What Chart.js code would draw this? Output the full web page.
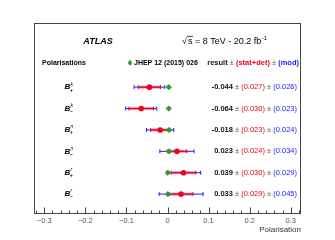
<!DOCTYPE html>
<html lang="en">
<head>
    <title>Polarisations</title>
    <script src="https://cdn.jsdelivr.net/npm/chart.js"></script>
    <style>
        body { margin: 0; background: #fff; }
        canvas { display: block; }
    </style>
</head>
<body>
    <canvas id="pol" width="335" height="240"></canvas>

    <script>
        // data
        const rowNames = [['k', '+'], ['k', '\u2212'], ['n', '+'], ['n', '\u2212'], ['r', '+'], ['r', '\u2212']];
        const results = [-0.044, -0.064, -0.018, 0.023, 0.039, 0.033];
        const statDet = [0.027, 0.030, 0.023, 0.024, 0.030, 0.029];
        const modErr = [0.026, 0.023, 0.024, 0.034, 0.029, 0.045];
        const predictions = [0.003, 0.003, 0.004, 0.004, 0.001, 0.001];
        const xTicks = [-0.3, -0.2, -0.1, 0, 0.1, 0.2, 0.3];

        const FONT = '"Liberation Sans", Arial, sans-serif';
        const RED = '#f0001c';
        const BLUE = '#1a1aff';
        const GREEN = '#2e9a33';

        // row i sits at y = i + 3 on the hidden y scale
        const rowY = i => i + 3;

        const datasets = [];
        results.forEach((v, i) => {
            const tot = Math.sqrt(statDet[i] * statDet[i] + modErr[i] * modErr[i]);
            datasets.push({
                data: [{x: v - tot, y: rowY(i)}, {x: v + tot, y: rowY(i)}],
                showLine: true, borderColor: BLUE, borderWidth: 1,
                pointStyle: 'line', rotation: 90, pointRadius: 2,
                pointBorderColor: BLUE, pointBorderWidth: 1, order: 5
            });
            datasets.push({
                data: [{x: v - statDet[i], y: rowY(i)}, {x: v + statDet[i], y: rowY(i)}],
                showLine: true, borderColor: 'rgba(225, 40, 80, 0.5)', borderWidth: 3,
                pointRadius: 0, order: 4
            });
            datasets.push({
                data: [{x: v - statDet[i], y: rowY(i)}, {x: v + statDet[i], y: rowY(i)}],
                showLine: true, borderColor: RED, borderWidth: 1,
                pointStyle: 'line', rotation: 90, pointRadius: 2,
                pointBorderColor: RED, pointBorderWidth: 1, order: 3
            });
        });
        datasets.push({
            data: predictions.map((p, i) => ({x: p, y: rowY(i)})),
            pointStyle: 'rectRot', pointRadius: 2.6,
            backgroundColor: GREEN, borderColor: GREEN, pointBorderWidth: 1, order: 2
        });
        datasets.push({
            data: results.map((v, i) => ({x: v, y: rowY(i)})),
            pointStyle: 'circle', pointRadius: 2.8,
            backgroundColor: RED, borderColor: RED, pointBorderWidth: 0, order: 1
        });

        const fmtTick = v => v === 0 ? '0' : (v < 0 ? '\u2212' : '') + Math.abs(v).toFixed(1);

        // pieces drawn one after another, right-aligned at xRight
        function drawPieces(ctx, pieces, xRight, y) {
            let total = 0;
            pieces.forEach(p => { ctx.font = p.font; total += ctx.measureText(p.text).width; });
            let x = xRight - total;
            pieces.forEach(p => {
                ctx.font = p.font;
                ctx.fillStyle = p.color;
                ctx.fillText(p.text, x, y);
                x += ctx.measureText(p.text).width;
            });
        }

        const decor = {
            id: 'decor',
            afterDraw(chart) {
                const ctx = chart.ctx;
                const a = chart.chartArea;
                const xs = chart.scales.x;
                const ys = chart.scales.y;
                ctx.save();

                // frame
                ctx.strokeStyle = '#444';
                ctx.lineWidth = 1;
                ctx.strokeRect(Math.round(a.left) + 0.5, Math.round(a.top) + 0.5,
                    Math.round(a.right - a.left) - 1, Math.round(a.bottom - a.top) - 1);

                // ticks pointing up from the bottom axis
                const yb = Math.round(a.bottom) - 0.5;
                for (let i = -16; i <= 16; i++) {
                    const px = Math.round(xs.getPixelForValue(i / 50)) + 0.5;
                    const len = i % 5 === 0 ? 6 : 3;
                    ctx.beginPath();
                    ctx.moveTo(px, yb);
                    ctx.lineTo(px, yb - len);
                    ctx.stroke();
                }

                ctx.textBaseline = 'middle';
                const small = '7px ' + FONT;
                const col = '7.5px ' + FONT;

                // header
                const yA = ys.getPixelForValue(0.88);
                ctx.textAlign = 'center';
                ctx.fillStyle = '#000';
                ctx.font = 'italic bold 9px ' + FONT;
                ctx.fillText('ATLAS', 98, yA);

                ctx.textAlign = 'left';
                ctx.font = '9px ' + FONT;
                ctx.fillText('\u221A', 182, yA);
                ctx.fillText('s = 8 TeV - 20.2 fb', 188, yA);
                const wS = ctx.measureText('s').width;
                ctx.beginPath();
                ctx.moveTo(187, yA - 5.5);
                ctx.lineTo(188 + wS + 0.5, yA - 5.5);
                ctx.stroke();
                const wLine = ctx.measureText('s = 8 TeV - 20.2 fb').width;
                ctx.font = '6px ' + FONT;
                ctx.fillText('-1', 188 + wLine + 0.5, yA - 3.5);

                const yP = ys.getPixelForValue(1.86);
                ctx.font = 'bold ' + small;
                ctx.fillText('Polarisations', 42, yP);
                ctx.fillStyle = GREEN;
                ctx.beginPath();
                ctx.moveTo(130, yP - 3.2); ctx.lineTo(132.2, yP); ctx.lineTo(130, yP + 3.2); ctx.lineTo(127.8, yP);
                ctx.closePath(); ctx.fill();
                ctx.fillStyle = '#000';
                ctx.font = 'bold ' + small;
                ctx.fillText('JHEP 12 (2015) 026', 134, yP);

                drawPieces(ctx, [
                    {text: 'result ', font: 'bold ' + col, color: '#111'},
                    {text: '\u00B1 ', font: col, color: '#555'},
                    {text: '(stat+det) ', font: 'bold ' + col, color: RED},
                    {text: '\u00B1 ', font: col, color: '#555'},
                    {text: '(mod)', font: 'bold ' + col, color: BLUE}
                ], 299, yP);

                // rows
                results.forEach((v, i) => {
                    const y = ys.getPixelForValue(rowY(i));
                    ctx.fillStyle = '#000';
                    ctx.textAlign = 'left';
                    ctx.font = 'italic bold 8px ' + FONT;
                    ctx.fillText('B', 64.5, y);
                    const wB = ctx.measureText('B').width;
                    ctx.font = 'italic 5px ' + FONT;
                    ctx.fillText(rowNames[i][0], 64.5 + wB + 0.3, y - 3);
                    ctx.font = 'bold 5px ' + FONT;
                    ctx.fillText(rowNames[i][1], 64.5 + wB - 0.3, y + 3);

                    drawPieces(ctx, [
                        {text: v.toFixed(3) + ' ', font: 'bold ' + col, color: '#111'},
                        {text: '\u00B1 ', font: col, color: '#555'},
                        {text: '(' + statDet[i].toFixed(3) + ') ', font: col, color: RED},
                        {text: '\u00B1 ', font: col, color: '#555'},
                        {text: '(' + modErr[i].toFixed(3) + ')', font: col, color: BLUE}
                    ], 297, y);
                });
                ctx.restore();
            }
        };

        new Chart(document.getElementById('pol').getContext('2d'), {
            type: 'scatter',
            data: { datasets: datasets },
            options: {
                responsive: false,
                animation: false,
                devicePixelRatio: 1,
                layout: { padding: { left: 34, right: 34, top: 23, bottom: 0 } },
                plugins: { legend: { display: false }, tooltip: { enabled: false } },
                scales: {
                    x: {
                        min: -0.325,
                        max: 0.325,
                        afterBuildTicks: scale => { scale.ticks = xTicks.map(v => ({value: v})); },
                        afterFit: scale => { scale.height = 26; },
                        grid: { display: false, drawTicks: false },
                        border: { display: false },
                        ticks: {
                            padding: 2,
                            color: '#555',
                            font: { family: FONT, size: 7.5 },
                            maxRotation: 0,
                            autoSkip: false,
                            callback: v => fmtTick(v)
                        },
                        title: {
                            display: true,
                            text: 'Polarisation',
                            align: 'end',
                            color: '#333',
                            font: { family: FONT, size: 8 },
                            padding: { top: 0, bottom: 5 }
                        }
                    },
                    y: {
                        display: false,
                        min: 0,
                        max: 8.93,
                        reverse: true
                    }
                }
            },
            plugins: [decor]
        });
    </script>
</body>
</html>
